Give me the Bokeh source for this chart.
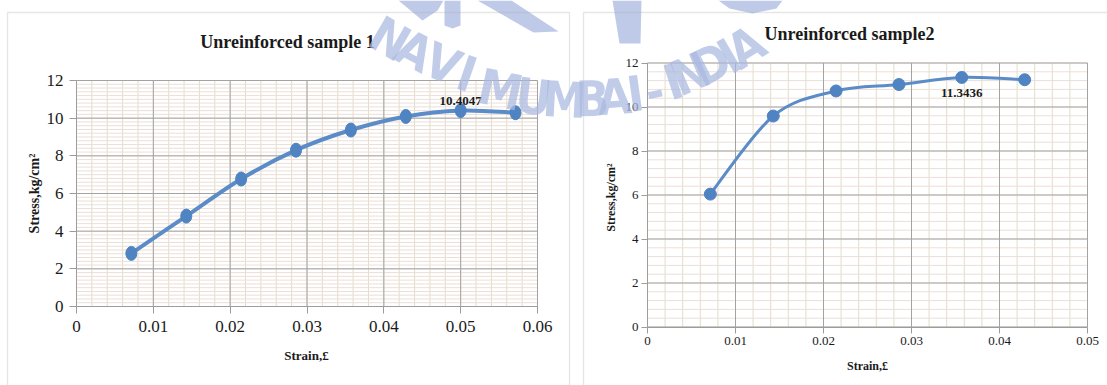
import numpy as np
from bokeh.plotting import figure
from bokeh.models import (FixedTicker, Label, BoxAnnotation, PolyAnnotation,
                          CustomJSTickFormatter, Range1d, LinearAxis)
from bokeh.embed import file_html
from bokeh.resources import INLINE

# ---- data: unreinforced sample 1 ----
strain_1 = [0.00714, 0.01429, 0.02143, 0.02857, 0.03571, 0.04286, 0.05000, 0.05714]
stress_1 = [2.82, 4.80, 6.77, 8.30, 9.37, 10.09, 10.4047, 10.29]
peak_1 = 10.4047
x_ticks_1 = [0, 0.01, 0.02, 0.03, 0.04, 0.05, 0.06]

# ---- data: unreinforced sample 2 ----
strain_2 = [0.00714, 0.01429, 0.02143, 0.02857, 0.03571, 0.04286]
stress_2 = [6.04, 9.59, 10.73, 11.02, 11.3436, 11.24]
peak_2 = 11.3436
x_ticks_2 = [0, 0.01, 0.02, 0.03, 0.04, 0.05]

y_ticks = [0, 2, 4, 6, 8, 10, 12]

titles = ["Unreinforced sample 1", "Unreinforced sample2"]
x_label = "Strain,\u00a3"
y_label = "Stress,kg/cm\u00b2"

W, H = 1107, 385
SERIF = "Liberation Serif"
INK = "#1a1a1a"
LINE_BLUE = "#5b8cc8"
MARK_BLUE = "#4f83c2"
MAJOR_GRID = "#a3a3a3"
MINOR_V = "#e4dcc8"
MINOR_H = "#ebdfd8"
MARK_TINT = "#b3c1e4"

# plot areas on the page: left, right, top, bottom (pixels)
AREA_1 = (76, 537, 80, 306)
AREA_2 = (647, 1087, 62.5, 326.5)

# watermark letters: (char, x, y, angle in degrees), page pixels
WATERMARK = [
    ("N", 389, 39, -30), ("A", 414, 51, -27), ("V", 442, 64, -23), ("I", 466, 74, -19),
    ("M", 500, 90, -12), ("U", 533, 97, -7), ("M", 564, 100, -3), ("B", 592, 99, 1),
    ("A", 614, 97, 4), ("I", 635, 94, 8), ("-", 654, 90, 12), ("I", 673, 82, 18),
    ("N", 690, 74, 23), ("D", 711, 64, 27), ("I", 729, 56, 30), ("A", 746, 47, 32),
]

# logo fragments along the top edge (page pixels)
LOGO_PIECES = [
    ([398, 443, 437, 422], [0, 0, 10, 20]),
    ([444, 460, 460, 452, 444], [0, 0, 25, 28, 25]),
    ([477, 511, 558, 533], [0, 0, 31, 32]),
    ([612, 641, 640, 619], [0, 0, 43, 43]),
    ([718, 782, 776, 752, 729], [0, 0, 8, 13, 8]),
]


def page_ranges(area, x_hi, y_hi):
    """Ranges spanning the whole page so that [0, x_hi] x [0, y_hi] fills `area`."""
    left, right, top, bottom = area
    kx = x_hi / (right - left)
    ky = y_hi / (bottom - top)
    xr = Range1d(-left * kx, x_hi + (W - right) * kx)
    yr = Range1d(-(H - bottom) * ky, y_hi + top * ky)
    return xr, yr


def smooth_segments(xs, ys):
    """Cubic bezier segments (Catmull-Rom style) through the points."""
    xs = np.asarray(xs, float)
    ys = np.asarray(ys, float)
    n = len(xs)
    px = np.concatenate([[xs[0]], xs, [xs[-1]]])
    py = np.concatenate([[ys[0]], ys, [ys[-1]]])
    return dict(
        x0=xs[:-1], y0=ys[:-1], x1=xs[1:], y1=ys[1:],
        cx0=xs[:-1] + (px[2:n + 1] - px[0:n - 1]) / 6.0,
        cy0=ys[:-1] + (py[2:n + 1] - py[0:n - 1]) / 6.0,
        cx1=xs[1:] - (px[3:n + 2] - px[1:n]) / 6.0,
        cy1=ys[1:] - (py[3:n + 2] - py[1:n]) / 6.0,
    )


xr1, yr1 = page_ranges(AREA_1, x_ticks_1[-1], y_ticks[-1])
xr2, yr2 = page_ranges(AREA_2, x_ticks_2[-1], y_ticks[-1])

p = figure(width=W, height=H, output_backend="svg", toolbar_location=None,
           x_range=xr1, y_range=yr1, x_axis_location=None, y_axis_location=None,
           min_border=0, min_border_left=0, min_border_right=0,
           min_border_top=0, min_border_bottom=0)
p.extra_x_ranges = {"x2": xr2}
p.extra_y_ranges = {"y2": yr2}
p.background_fill_color = "white"
p.border_fill_color = "white"
p.outline_line_color = None
p.grid.visible = False

# faint logo fragments behind everything
for xs, ys in LOGO_PIECES:
    try:
        p.add_layout(PolyAnnotation(xs=xs, ys=ys, xs_units="canvas", ys_units="canvas",
                                    fill_color=MARK_TINT, fill_alpha=0.85, line_color=None,
                                    level="underlay"))
    except Exception:
        pass

# outer chart borders
for bl, br in ((7, 569), (583, 1120)):
    p.add_layout(BoxAnnotation(left=bl, right=br, top=12, bottom=400,
                               left_units="canvas", right_units="canvas",
                               top_units="canvas", bottom_units="canvas",
                               fill_alpha=0, line_color="#ababab", line_width=1.3,
                               level="underlay"))


def draw_chart(strain, stress, peak, x_ticks, x_step, y_step, names, cfg):
    rn = dict(x_range_name=names[0], y_range_name=names[1])
    x_hi = x_ticks[-1]
    x_minor = np.arange(0, x_hi + 1e-9, x_step)
    y_minor = np.arange(0, 12 + 1e-9, y_step)

    # grid: minor then major
    p.segment(x0=x_minor, y0=0, x1=x_minor, y1=12, line_color=MINOR_V, line_width=1, **rn)
    p.segment(x0=0, y0=y_minor, x1=x_hi, y1=y_minor, line_color=MINOR_H, line_width=1, **rn)
    p.segment(x0=x_ticks, y0=0, x1=x_ticks, y1=12, line_color=MAJOR_GRID, line_width=1, **rn)
    p.segment(x0=0, y0=y_ticks, x1=x_hi, y1=y_ticks, line_color=MAJOR_GRID, line_width=1, **rn)

    # axes pinned to the zero lines of this chart
    xa = LinearAxis(ticker=FixedTicker(ticks=x_ticks), fixed_location=0, bounds=(0, x_hi),
                    formatter=CustomJSTickFormatter(code="return tick == 0 ? '0' : tick.toFixed(2);"),
                    **rn)
    ya = LinearAxis(ticker=FixedTicker(ticks=y_ticks), fixed_location=0, bounds=(0, 12), **rn)
    for ax in (xa, ya):
        ax.axis_line_color = "#9c9c9c"
        ax.major_tick_line_color = "#9c9c9c"
        ax.major_tick_in = 0
        ax.major_tick_out = cfg["tick_out"]
        ax.minor_tick_line_color = None
        ax.major_label_text_font = SERIF
        ax.major_label_text_font_size = f"{cfg['tick_size']}px"
        ax.major_label_text_color = INK
    xa.major_label_standoff = cfg["x_standoff"]
    ya.major_label_standoff = cfg["y_standoff"]
    p.add_layout(xa, "below")
    p.add_layout(ya, "left")

    # smoothed curve and markers
    p.bezier(line_color=LINE_BLUE, line_width=cfg["line_width"], **smooth_segments(strain, stress), **rn)
    if cfg["tall_markers"]:
        p.ellipse(strain, stress, width=11, height=14, width_units="screen", height_units="screen",
                  fill_color=MARK_BLUE, line_color=MARK_BLUE, **rn)
    else:
        p.scatter(strain, stress, size=12, marker="circle",
                  fill_color=MARK_BLUE, line_color=MARK_BLUE, **rn)

    # peak value label
    p.add_layout(Label(x=strain[stress.index(peak)], y=peak, text=f"{peak:.4f}",
                       text_font=SERIF, text_font_style="bold", text_font_size="13px",
                       text_color=INK, text_align="center",
                       text_baseline=cfg["peak_baseline"], y_offset=cfg["peak_offset"], **rn))


draw_chart(strain_1, stress_1, peak_1, x_ticks_1, 0.002, 0.2, ("default", "default"),
           dict(tick_out=7, tick_size=17, x_standoff=7, y_standoff=6, line_width=4,
                tall_markers=True, peak_baseline="bottom", peak_offset=6))
draw_chart(strain_2, stress_2, peak_2, x_ticks_2, 0.002, 0.4, ("x2", "y2"),
           dict(tick_out=6, tick_size=13, x_standoff=4, y_standoff=3, line_width=3,
                tall_markers=False, peak_baseline="top", peak_offset=-12))


def page_text(text, x, y, size, angle=0):
    p.add_layout(Label(x=x, y=y, x_units="canvas", y_units="canvas", text=text,
                       angle=angle, angle_units="deg",
                       text_font=SERIF, text_font_style="bold", text_font_size=f"{size}px",
                       text_color=INK, text_align="center", text_baseline="middle"))


# titles and axis titles
page_text(titles[0], 287, 41, 18)
page_text(titles[1], 849, 33, 18)
page_text(x_label, 306, 355, 13)
page_text(x_label, 867, 365, 12)
page_text(y_label, 34, 193, 14, angle=90)
page_text(y_label, 610, 197, 12, angle=90)

# watermark
for ch, cx, cy, ang in WATERMARK:
    p.add_layout(Label(x=cx, y=cy, x_units="canvas", y_units="canvas", text=ch,
                       angle=ang, angle_units="deg",
                       text_font="Liberation Sans Narrow, DejaVu Sans Condensed, sans-serif",
                       text_font_style="bold", text_font_size="49px",
                       text_color="#a9b8e0", text_alpha=0.72,
                       text_align="center", text_baseline="middle", level="overlay"))

open("out.html", "w").write(file_html(p, INLINE))
